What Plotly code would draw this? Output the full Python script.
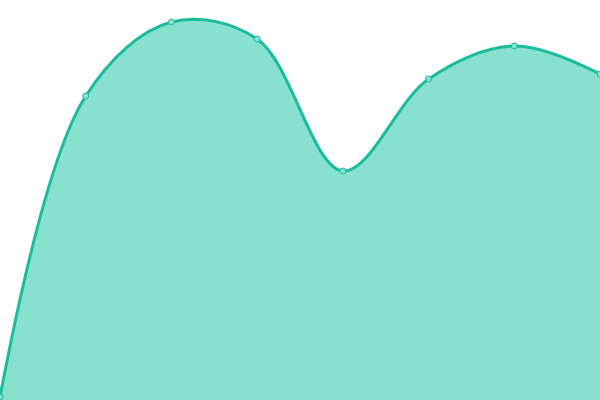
import plotly.graph_objects as go

# x positions (index) and values
steps = [0, 1, 2, 3, 4, 5, 6, 7]
values = [3, 304, 378, 361, 229, 321, 354, 326]

line_color = "#1abc9c"
fill_color = "#88e0cf"

fig = go.Figure()
fig.add_trace(go.Scatter(
    x=steps,
    y=values,
    mode="lines+markers",
    line=dict(color=line_color, width=3, shape="spline", smoothing=1),
    fill="tozeroy",
    fillcolor=fill_color,
    marker=dict(size=6, color=fill_color, line=dict(color=line_color, width=1)),
    hoverinfo="skip",
))

fig.update_layout(
    width=600,
    height=400,
    margin=dict(l=0, r=0, t=0, b=0),
    paper_bgcolor="white",
    plot_bgcolor="white",
    showlegend=False,
    xaxis=dict(range=[0, 7], visible=False, fixedrange=True),
    yaxis=dict(range=[0, 400], visible=False, fixedrange=True),
)

# drop the browser's default body margin so the chart fills the window
fig.write_html("out.html", config={"displayModeBar": False},
               post_script="document.body.style.margin='0';")
